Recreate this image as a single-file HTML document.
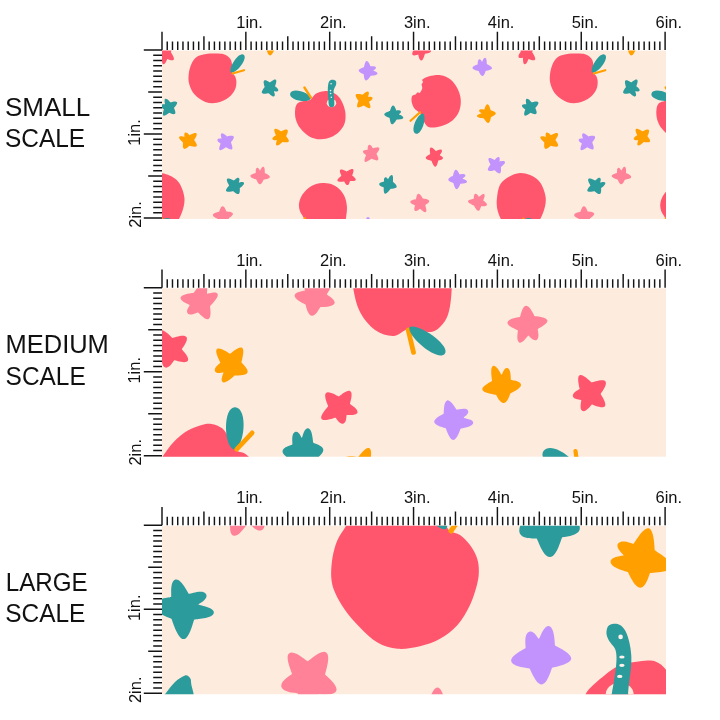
<!DOCTYPE html>
<html><head><meta charset="utf-8"><style>
html,body{margin:0;padding:0;background:#fff;width:720px;height:720px;overflow:hidden}
svg{position:absolute;left:0;top:0;display:block;will-change:transform}
.lb{font-family:"Liberation Sans",sans-serif;font-size:16.5px;fill:#111}
.big{font-family:"Liberation Sans",sans-serif;font-size:26px;fill:#111}
</style></head><body>
<svg width="720" height="720" viewBox="0 0 720 720">
<clipPath id="c0"><rect x="162" y="50.55" width="504" height="168.35"/></clipPath>
<rect x="162" y="50.55" width="504" height="168.35" fill="#FDEBDE"/>
<g clip-path="url(#c0)"><g transform="translate(-361.3 0)"><path d="M528.54 58.89C528.26 59.01 526.76 64.44 524.7 64.2C522.64 63.96 523.17 57.86 522.91 57.69C522.65 57.52 519.73 59 518.7 57.2C517.67 55.4 520.78 51.87 520.86 51.57C520.94 51.27 519.19 45.01 521 44C522.81 42.99 526.32 47.04 526.63 47.07C526.94 47.1 531.44 43.63 533 45C534.56 46.37 532.16 52.03 532.19 52.34C532.23 52.65 536.24 58.04 535 59.7C533.76 61.36 528.83 58.76 528.54 58.89Z" fill="#FF566D"/><path d="M274.66 49.24C274.46 49.47 272.03 55.6 270 55.5C267.97 55.4 266.35 49.26 266.16 49.03C265.97 48.79 260.68 46 261 44C261.32 42 265.72 42.31 265.91 42.06C266.09 41.82 264.17 36.87 266 36C267.83 35.13 270.45 39.37 270.75 39.38C271.06 39.39 274.24 34.98 276 36C277.76 37.02 275.17 41.93 275.34 42.18C275.51 42.43 279.68 42 280 44C280.32 46 274.86 49.01 274.66 49.24Z" fill="#FFA000"/><path d="M268.57 93.14C268.29 93.07 263 94.59 262 93C261 91.41 264.64 87.33 264.69 87.05C264.74 86.77 262.71 81.65 264.2 80.5C265.69 79.35 269.58 82.42 269.86 82.41C270.15 82.41 274.26 78.62 275.8 79.7C277.34 80.78 274.97 85.98 275.06 86.24C275.15 86.51 278.84 88.7 278.3 90.5C277.76 92.3 274.11 91.07 273.93 91.29C273.74 91.51 275.88 95.45 274.2 96.3C272.52 97.15 268.84 93.22 268.57 93.14Z" fill="#2B9B9B"/><path d="M530.53 112.75C530.25 112.78 526.23 116.51 524.7 115.5C523.17 114.49 525.36 109.6 525.26 109.34C525.16 109.08 521.55 107.28 522 105.5C522.45 103.72 526.08 104.38 526.26 104.18C526.44 103.97 524.98 99.45 526.7 98.8C528.42 98.15 531.46 102.23 531.72 102.32C531.98 102.41 537.31 100.65 538.3 102.2C539.29 103.75 535.34 107.81 535.31 108.08C535.28 108.35 537.6 112.5 536.3 113.8C535 115.1 530.8 112.72 530.53 112.75Z" fill="#2B9B9B"/><path d="M189.53 145.84C189.25 145.92 185.75 149.64 184 148.8C182.25 147.96 183.12 142.72 183.02 142.45C182.91 142.18 178.39 138.81 179.1 137C179.81 135.19 184.28 136.97 184.49 136.77C184.7 136.57 183.55 133.1 185.4 132.5C187.25 131.9 189.26 135.08 189.54 135.16C189.82 135.24 195.25 131.91 196.5 133.4C197.75 134.89 194.06 139.81 194.08 140.1C194.1 140.39 197.74 144.36 196.7 146C195.66 147.64 189.81 145.76 189.53 145.84Z" fill="#FFA000"/><path d="M225.81 147.32C225.53 147.34 221.27 151.16 219.7 150.1C218.13 149.04 220.66 143.73 220.56 143.47C220.45 143.21 216.99 141.55 217.4 139.7C217.81 137.85 221.44 138.67 221.61 138.45C221.79 138.23 219.8 134.24 221.5 133.4C223.2 132.56 226.73 136.34 227 136.42C227.27 136.5 232.73 134.97 233.7 136.6C234.67 138.23 231.06 142.14 231.02 142.42C230.97 142.7 233.45 147.98 232 149.2C230.55 150.42 226.1 147.3 225.81 147.32Z" fill="#C393FD"/><path d="M282.47 142.02C282.2 142.1 278.37 146.26 276.7 145.4C275.03 144.54 277.07 140.43 276.9 140.2C276.72 139.98 272.83 140.83 272.4 139C271.97 137.17 275.78 135.45 275.87 135.18C275.97 134.92 273.22 130.05 274.7 128.9C276.18 127.75 280.92 131.34 281.2 131.35C281.49 131.37 286 128.64 287.4 129.9C288.8 131.16 286.16 135.91 286.2 136.19C286.25 136.47 289.65 139.88 288.7 141.5C287.75 143.12 282.74 141.94 282.47 142.02Z" fill="#FFA000"/><path d="M256.41 179.63C256.22 179.43 250.4 177.86 250.4 176C250.4 174.14 255.56 173.24 255.72 173.01C255.88 172.78 255.26 168.44 257 167.8C258.74 167.16 259.76 170.7 260.03 170.71C260.31 170.71 261.76 166.14 263.5 166.8C265.24 167.46 264.65 172.8 264.8 173.04C264.95 173.27 270.09 175.15 269.9 177C269.71 178.85 263.72 179.65 263.51 179.84C263.31 180.03 261.96 184.28 260.1 184.3C258.24 184.32 256.61 179.82 256.41 179.63Z" fill="#FF8298"/><path d="M233.35 191.18C233.07 191.09 227.06 192.77 226.1 191.1C225.14 189.43 229.07 185.68 229.1 185.39C229.13 185.11 225.83 180.44 227.1 179C228.37 177.56 233.57 180.63 233.85 180.57C234.13 180.51 236.95 177.1 238.7 177.9C240.45 178.7 238.69 182.26 238.89 182.47C239.08 182.68 243.37 181.08 244 182.9C244.63 184.72 239.92 187.78 239.81 188.05C239.69 188.31 240.44 193.19 238.7 194C236.96 194.81 233.62 191.27 233.35 191.18Z" fill="#2B9B9B"/><path d="M223 222.65C222.68 222.65 218.83 227.1 217 226C215.17 224.9 217.55 219.03 217.41 218.74C217.27 218.45 212.65 216.92 212.9 214.8C213.15 212.68 218.92 212.06 219.15 211.84C219.39 211.62 220.47 206.39 222.6 206.3C224.73 206.21 226.14 211.26 226.4 211.45C226.65 211.64 232.38 211.43 232.9 213.5C233.42 215.57 228.88 218.08 228.76 218.38C228.64 218.67 230.83 224.9 229 226C227.17 227.1 223.32 222.65 223 222.65Z" fill="#FF8298"/><path d="M418.16 54.5C417.86 54.35 413.73 56.54 412.5 54.7C411.27 52.86 414.84 47.96 414.91 47.64C414.98 47.32 413.1 40.14 415 39C416.9 37.86 420.67 42.35 421 42.35C421.33 42.35 425.1 37.86 427 39C428.9 40.14 426.62 46.25 426.75 46.55C426.88 46.86 431.5 49.14 431 51.3C430.5 53.46 425.18 53.59 424.93 53.8C424.67 54.01 423.51 60.44 421.3 60.5C419.09 60.56 418.45 54.66 418.16 54.5Z" fill="#FF566D"/><path d="M370.82 75.84C370.58 75.98 367.66 80.93 365.8 80.5C363.94 80.07 363.83 74.49 363.66 74.27C363.49 74.04 358.6 72.41 358.7 70.5C358.8 68.59 363.75 67.45 363.95 67.24C364.14 67.03 364.81 61.25 366.7 61C368.59 60.75 370.28 66.16 370.54 66.29C370.79 66.43 374.96 65.48 375.8 67.2C376.64 68.92 373.25 70.27 373.28 70.56C373.3 70.84 378.04 71.97 377.5 73.8C376.96 75.63 371.07 75.69 370.82 75.84Z" fill="#C393FD"/><path d="M478.57 71.03C478.36 70.85 472.7 69.86 472.5 68C472.3 66.14 477.56 64.56 477.71 64.32C477.86 64.08 477.44 59.94 479.2 59.3C480.96 58.66 481.7 61.85 481.98 61.85C482.26 61.85 483.54 57.08 485.3 57.7C487.06 58.32 486.7 63.79 486.85 64.03C486.99 64.27 492.24 66.45 492 68.3C491.76 70.15 485.91 70.8 485.7 70.99C485.5 71.18 484.37 75.9 482.5 76C480.63 76.1 478.78 71.21 478.57 71.03Z" fill="#C393FD"/><path d="M363.75 105.61C363.46 105.6 358.91 108.47 357.5 107.2C356.09 105.93 358.54 101.01 358.5 100.73C358.46 100.44 354.77 96.3 355.8 94.7C356.83 93.1 362.33 94.81 362.6 94.74C362.88 94.66 366.61 90.83 368.3 91.7C369.99 92.57 367.89 96.61 368.06 96.83C368.24 97.06 372.06 96.15 372.5 98C372.94 99.85 369.12 101.55 369.02 101.82C368.92 102.09 371.52 106.86 370 108C368.48 109.14 364.03 105.62 363.75 105.61Z" fill="#FFA000"/><path d="M396.75 119.47C396.5 119.61 393.82 124.67 392 124.3C390.18 123.93 389.77 118.24 389.59 118.02C389.42 117.81 384.16 116.15 384.2 114.3C384.24 112.45 389.84 111.08 390.03 110.88C390.22 110.67 391.16 105.7 393 105.5C394.84 105.3 396.06 110.24 396.31 110.38C396.55 110.51 400.01 109.62 400.8 111.3C401.59 112.98 398.96 114.02 398.97 114.3C398.98 114.58 403.95 116.27 403.3 118C402.65 119.73 396.99 119.34 396.75 119.47Z" fill="#2B9B9B"/><path d="M483.88 118.55C483.65 118.39 477.42 118.12 477 116.3C476.58 114.48 481.58 113.61 481.62 113.33C481.65 113.05 478.35 111.66 479.2 110C480.05 108.34 484.13 109.58 484.37 109.44C484.61 109.3 485.64 104.2 487.5 104.3C489.36 104.4 490.48 110.02 490.68 110.21C490.88 110.41 495.65 111.44 495.8 113.3C495.95 115.16 491.17 116.97 490.99 117.19C490.82 117.41 490.15 122.73 488.3 123C486.45 123.27 484.11 118.71 483.88 118.55Z" fill="#FFA000"/><path d="M371.53 158.81C371.25 158.83 366.54 162.76 365 161.7C363.46 160.64 366.14 155.24 366.04 154.98C365.93 154.72 362.61 153.13 363 151.3C363.39 149.47 367.44 149.85 367.63 149.65C367.83 149.45 367.37 145.1 369.2 144.7C371.03 144.3 372.77 148.15 373.03 148.26C373.29 148.37 378.23 146.4 379.2 148C380.17 149.6 376.55 153.38 376.52 153.66C376.49 153.94 379.32 158.68 378 160C376.68 161.32 371.81 158.78 371.53 158.81Z" fill="#FF8298"/><path d="M431.46 160.79C431.24 160.61 426.1 159.86 425.8 158C425.5 156.14 430.02 154.18 430.15 153.94C430.28 153.69 429.1 148.29 430.8 147.5C432.5 146.71 435.72 151.05 435.99 151.1C436.27 151.15 440.39 148.65 441.7 150C443.01 151.35 439.73 154.87 439.81 155.15C439.89 155.42 443.41 156.47 443 158.3C442.59 160.13 438.55 160.37 438.34 160.55C438.12 160.73 437.18 166.64 435.3 166.7C433.42 166.76 431.68 160.97 431.46 160.79Z" fill="#FF566D"/><path d="M494.58 170.17C494.31 170.09 489.03 171.86 488 170.3C486.97 168.74 490.44 164.84 490.46 164.56C490.48 164.28 487.44 159.67 488.7 158.3C489.96 156.93 494.43 160 494.7 159.93C494.97 159.86 496.93 156.4 498.7 157C500.47 157.6 499.42 161.2 499.62 161.39C499.82 161.59 504.41 160.23 505 162C505.59 163.77 501.02 166.82 500.91 167.08C500.8 167.33 501.68 172.49 500 173.3C498.32 174.11 494.85 170.24 494.58 170.17Z" fill="#C393FD"/><path d="M344.22 181.4C343.98 181.24 338.2 182.56 337.5 180.8C336.8 179.04 341.34 176 341.4 175.73C341.47 175.45 338.91 170.98 340.3 169.7C341.69 168.42 346.47 171.39 346.76 171.38C347.04 171.36 351.5 168.05 353 169.2C354.5 170.35 352.14 175.15 352.22 175.42C352.3 175.69 356.41 178.21 355.8 180C355.19 181.79 350.22 180.75 350 180.92C349.77 181.09 349.39 184.88 347.5 185C345.61 185.12 344.46 181.55 344.22 181.4Z" fill="#FF566D"/><path d="M390.5 188.92C390.25 189.04 386.73 194.23 385 193.7C383.27 193.17 383.85 187.47 383.69 187.26C383.53 187.04 379.24 186.01 379.2 184.2C379.16 182.39 384 181.82 384.14 181.59C384.28 181.36 383.36 178.26 385 177.5C386.64 176.74 387.69 179.15 387.97 179.15C388.24 179.15 390.35 174.27 392 175C393.65 175.73 392.87 181.59 392.98 181.83C393.09 182.08 397.29 185.29 396.7 187C396.11 188.71 390.74 188.8 390.5 188.92Z" fill="#2B9B9B"/><path d="M460.44 183.77C460.21 183.94 458.62 189.26 456.7 189.2C454.78 189.14 453.49 183.11 453.28 182.91C453.07 182.71 448.45 181.61 448.3 179.7C448.15 177.79 452.81 175.97 452.99 175.75C453.17 175.53 453.9 169.95 455.8 169.7C457.7 169.45 459.27 174.2 459.52 174.34C459.78 174.48 464.47 173.27 465.3 175C466.13 176.73 462.56 178.27 462.58 178.56C462.61 178.85 467.55 180.16 467 182C466.45 183.84 460.68 183.6 460.44 183.77Z" fill="#C393FD"/><path d="M420.01 208.69C419.71 208.69 416.64 211.85 415 210.8C413.36 209.75 415.2 205.55 415.07 205.28C414.95 205.02 410.04 203.63 410.3 201.7C410.56 199.77 415.83 199.43 416.03 199.22C416.23 199 416.38 194.05 418.3 193.7C420.22 193.35 422.7 198.32 422.94 198.48C423.19 198.64 428.75 198.91 429.2 200.8C429.65 202.69 425.44 204.87 425.33 205.14C425.22 205.41 427.44 210.95 425.8 212C424.16 213.05 420.3 208.69 420.01 208.69Z" fill="#FF8298"/><path d="M474.14 205.73C473.94 205.52 467.87 203.18 468 201.3C468.13 199.42 473.61 198.93 473.79 198.71C473.96 198.49 473.51 194.28 475.3 193.7C477.09 193.12 478.67 196.71 478.95 196.76C479.22 196.81 482.73 193.03 484.2 194.2C485.67 195.37 483.23 200.15 483.31 200.42C483.39 200.69 487.59 203.22 487 205C486.41 206.78 481.35 206.01 481.12 206.18C480.89 206.35 480.18 210.74 478.3 210.8C476.42 210.86 474.33 205.93 474.14 205.73Z" fill="#FF8298"/><path d="M368 232.7C367.7 232.7 363.59 236.19 362 235C360.41 233.81 362.6 228.71 362.53 228.42C362.45 228.14 358.19 224.82 359 223C359.81 221.18 364.67 222.42 364.92 222.26C365.17 222.09 366.01 217 368 217C369.99 217 370.83 222.09 371.08 222.26C371.33 222.42 376.19 221.18 377 223C377.81 224.82 373.55 228.14 373.47 228.42C373.4 228.71 375.59 233.81 374 235C372.41 236.19 368.3 232.7 368 232.7Z" fill="#C393FD"/><path d="M202.4 54.7C205.23 54.03 209.45 53.68 213 53.6C216.55 53.52 220.87 53.37 223.7 54.2C226.53 55.03 228.62 56.9 230 58.6C231.38 60.3 231.75 62.3 232 64.4C232.25 66.5 231.02 69.25 231.5 71.2C231.98 73.15 234.08 74.32 234.9 76.1C235.72 77.88 236.4 79.63 236.4 81.9C236.4 84.17 236.2 87.1 234.9 89.7C233.6 92.3 231.6 95.32 228.6 97.5C225.6 99.68 220.78 102.07 216.9 102.8C213.02 103.53 209.02 103.27 205.3 101.9C201.58 100.53 197.28 97.6 194.6 94.6C191.92 91.6 190.18 87.3 189.2 83.9C188.22 80.5 188.37 77.45 188.7 74.2C189.03 70.95 189.98 67.17 191.2 64.4C192.42 61.63 194.13 59.22 196 57.6C197.87 55.98 199.57 55.37 202.4 54.7Z" fill="#FF566D"/><path d="M231 72.5C236.17 74.04 248.29 58.51 243.7 54.7C239.11 50.89 227.86 68.11 231 72.5Z" fill="#2B9B9B"/><path d="M232.5 73.5L244 70.2" stroke="#FFA000" stroke-width="2.2" stroke-linecap="round"/><path d="M311.2 99C312.5 97.87 313.98 94.9 316.1 93.6C318.22 92.3 321.47 91.52 323.9 91.2C326.33 90.88 328.43 90.98 330.7 91.7C332.97 92.42 335.57 93.72 337.5 95.5C339.43 97.28 341 99.63 342.3 102.4C343.6 105.17 344.88 108.7 345.3 112.1C345.72 115.5 345.78 119.57 344.8 122.8C343.82 126.03 341.75 129.08 339.4 131.5C337.05 133.92 333.93 136 330.7 137.3C327.47 138.6 323.57 139.45 320 139.3C316.43 139.15 312.55 138.18 309.3 136.4C306.05 134.62 302.77 131.52 300.5 128.6C298.23 125.68 296.58 122.13 295.7 118.9C294.82 115.67 294.88 111.8 295.2 109.2C295.52 106.6 296.22 104.68 297.6 103.3C298.98 101.92 301.72 101.38 303.5 100.9C305.28 100.42 307.02 100.72 308.3 100.4C309.58 100.08 309.9 100.13 311.2 99Z" fill="#FF566D"/><path d="M310.8 98.8C310.61 92.8 292.32 87.01 290.2 93.4C288.08 99.79 307.69 103.94 310.8 98.8Z" fill="#2B9B9B"/><path d="M304.4 87.5L311 97.6" stroke="#FFA000" stroke-width="2.3" stroke-linecap="round"/><ellipse cx="331.5" cy="103.2" rx="4.7" ry="4.1" fill="#FDEBDE"/><path d="M328.2 84.5C327.92 86 327.78 87.75 327.8 90C327.82 92.25 328.1 95.42 328.3 98C328.5 100.58 328.47 103.97 329 105.5C329.53 107.03 330.63 107.2 331.5 107.2C332.37 107.2 333.78 107.03 334.2 105.5C334.62 103.97 334.1 100.33 334 98C333.9 95.67 333.55 93.08 333.6 91.5C333.65 89.92 333.88 89.67 334.3 88.5C334.72 87.33 335.85 85.75 336.1 84.5C336.35 83.25 336.4 81.8 335.8 81C335.2 80.2 333.55 79.7 332.5 79.7C331.45 79.7 330.22 80.2 329.5 81C328.78 81.8 328.48 83 328.2 84.5Z" fill="#2B9B9B"/><circle cx="331.1" cy="83.8" r="0.8" fill="#FDF3EC"/><circle cx="330.5" cy="90.6" r="0.8" fill="#FDF3EC"/><circle cx="330.6" cy="93.5" r="0.8" fill="#FDF3EC"/><circle cx="331.3" cy="97.3" r="0.8" fill="#FDF3EC"/><path d="M422.4 79.6C423.43 78.63 426.13 76.93 429.2 76.2C432.27 75.47 437.25 74.63 440.8 75.2C444.35 75.77 447.75 77.42 450.5 79.6C453.25 81.78 455.6 85.07 457.3 88.3C459 91.53 460.37 95.27 460.7 99C461.03 102.73 460.67 107.13 459.3 110.7C457.93 114.27 455.58 117.82 452.5 120.4C449.42 122.98 444.68 125.07 440.8 126.2C436.92 127.33 431.95 127.85 429.2 127.2C426.45 126.55 425.77 124.57 424.3 122.3C422.83 120.03 422.02 115.87 420.4 113.6C418.78 111.33 416.05 110.65 414.6 108.7C413.15 106.75 412.12 104 411.7 101.9C411.28 99.8 411.47 97.35 412.1 96.1C412.73 94.85 414.6 95.02 415.5 94.4C416.4 93.78 416.82 92.65 417.5 92.4C418.18 92.15 418.82 93.55 419.6 92.9C420.38 92.25 421.87 89.88 422.2 88.5C422.53 87.12 421.47 85.68 421.6 84.6C421.73 83.52 422.87 82.83 423 82C423.13 81.17 421.37 80.57 422.4 79.6Z" fill="#FF566D"/><path d="M420 112.4L410.5 120.8" stroke="#FFA000" stroke-width="2.2" stroke-linecap="round"/><path d="M423 113.5C417.34 113.22 409.75 131 415.5 133.6C421.25 136.2 427.46 117 423 113.5Z" fill="#2B9B9B"/><path d="M303.5 217.4C302.48 215.58 300.65 213.35 299.9 211.1C299.15 208.85 298.7 206.45 299 203.9C299.3 201.35 300.2 198.37 301.7 195.8C303.2 193.23 305.58 190.47 308 188.5C310.42 186.53 313.48 184.9 316.2 184C318.92 183.1 321.45 182.95 324.3 183.1C327.15 183.25 330.6 183.7 333.3 184.9C336 186.1 338.55 188.18 340.5 190.3C342.45 192.42 343.93 194.88 345 197.6C346.07 200.32 346.67 203.75 346.9 206.6C347.13 209.45 346.8 212.3 346.4 214.7C346 217.1 346.4 218.95 344.5 221C342.6 223.05 339.92 226 335 227C330.08 228 319.83 227.83 315 227C310.17 226.17 307.92 223.6 306 222C304.08 220.4 304.52 219.22 303.5 217.4Z" fill="#FF566D"/><path d="M305 218.2L301 225" stroke="#FFA000" stroke-width="2.3" stroke-linecap="round"/><path d="M497 198C497.67 193 498.17 186.15 502 182C505.83 177.85 514 173.43 520 173.1C526 172.77 533.73 176.02 538 180C542.27 183.98 544.77 191.5 545.6 197C546.43 202.5 544.77 208.33 543 213C541.23 217.67 538.83 222.5 535 225C531.17 227.5 525 228.17 520 228C515 227.83 508.67 226.67 505 224C501.33 221.33 499.33 216.33 498 212C496.67 207.67 496.33 203 497 198Z" fill="#FF566D"/><ellipse cx="528.6" cy="222.5" rx="5.2" ry="4.6" fill="#2B9B9B"/><path d="M523.3 218.5L521 225" stroke="#FFA000" stroke-width="2" stroke-linecap="round"/></g><g transform="translate(0 0)"><path d="M528.54 58.89C528.26 59.01 526.76 64.44 524.7 64.2C522.64 63.96 523.17 57.86 522.91 57.69C522.65 57.52 519.73 59 518.7 57.2C517.67 55.4 520.78 51.87 520.86 51.57C520.94 51.27 519.19 45.01 521 44C522.81 42.99 526.32 47.04 526.63 47.07C526.94 47.1 531.44 43.63 533 45C534.56 46.37 532.16 52.03 532.19 52.34C532.23 52.65 536.24 58.04 535 59.7C533.76 61.36 528.83 58.76 528.54 58.89Z" fill="#FF566D"/><path d="M274.66 49.24C274.46 49.47 272.03 55.6 270 55.5C267.97 55.4 266.35 49.26 266.16 49.03C265.97 48.79 260.68 46 261 44C261.32 42 265.72 42.31 265.91 42.06C266.09 41.82 264.17 36.87 266 36C267.83 35.13 270.45 39.37 270.75 39.38C271.06 39.39 274.24 34.98 276 36C277.76 37.02 275.17 41.93 275.34 42.18C275.51 42.43 279.68 42 280 44C280.32 46 274.86 49.01 274.66 49.24Z" fill="#FFA000"/><path d="M268.57 93.14C268.29 93.07 263 94.59 262 93C261 91.41 264.64 87.33 264.69 87.05C264.74 86.77 262.71 81.65 264.2 80.5C265.69 79.35 269.58 82.42 269.86 82.41C270.15 82.41 274.26 78.62 275.8 79.7C277.34 80.78 274.97 85.98 275.06 86.24C275.15 86.51 278.84 88.7 278.3 90.5C277.76 92.3 274.11 91.07 273.93 91.29C273.74 91.51 275.88 95.45 274.2 96.3C272.52 97.15 268.84 93.22 268.57 93.14Z" fill="#2B9B9B"/><path d="M530.53 112.75C530.25 112.78 526.23 116.51 524.7 115.5C523.17 114.49 525.36 109.6 525.26 109.34C525.16 109.08 521.55 107.28 522 105.5C522.45 103.72 526.08 104.38 526.26 104.18C526.44 103.97 524.98 99.45 526.7 98.8C528.42 98.15 531.46 102.23 531.72 102.32C531.98 102.41 537.31 100.65 538.3 102.2C539.29 103.75 535.34 107.81 535.31 108.08C535.28 108.35 537.6 112.5 536.3 113.8C535 115.1 530.8 112.72 530.53 112.75Z" fill="#2B9B9B"/><path d="M189.53 145.84C189.25 145.92 185.75 149.64 184 148.8C182.25 147.96 183.12 142.72 183.02 142.45C182.91 142.18 178.39 138.81 179.1 137C179.81 135.19 184.28 136.97 184.49 136.77C184.7 136.57 183.55 133.1 185.4 132.5C187.25 131.9 189.26 135.08 189.54 135.16C189.82 135.24 195.25 131.91 196.5 133.4C197.75 134.89 194.06 139.81 194.08 140.1C194.1 140.39 197.74 144.36 196.7 146C195.66 147.64 189.81 145.76 189.53 145.84Z" fill="#FFA000"/><path d="M225.81 147.32C225.53 147.34 221.27 151.16 219.7 150.1C218.13 149.04 220.66 143.73 220.56 143.47C220.45 143.21 216.99 141.55 217.4 139.7C217.81 137.85 221.44 138.67 221.61 138.45C221.79 138.23 219.8 134.24 221.5 133.4C223.2 132.56 226.73 136.34 227 136.42C227.27 136.5 232.73 134.97 233.7 136.6C234.67 138.23 231.06 142.14 231.02 142.42C230.97 142.7 233.45 147.98 232 149.2C230.55 150.42 226.1 147.3 225.81 147.32Z" fill="#C393FD"/><path d="M282.47 142.02C282.2 142.1 278.37 146.26 276.7 145.4C275.03 144.54 277.07 140.43 276.9 140.2C276.72 139.98 272.83 140.83 272.4 139C271.97 137.17 275.78 135.45 275.87 135.18C275.97 134.92 273.22 130.05 274.7 128.9C276.18 127.75 280.92 131.34 281.2 131.35C281.49 131.37 286 128.64 287.4 129.9C288.8 131.16 286.16 135.91 286.2 136.19C286.25 136.47 289.65 139.88 288.7 141.5C287.75 143.12 282.74 141.94 282.47 142.02Z" fill="#FFA000"/><path d="M256.41 179.63C256.22 179.43 250.4 177.86 250.4 176C250.4 174.14 255.56 173.24 255.72 173.01C255.88 172.78 255.26 168.44 257 167.8C258.74 167.16 259.76 170.7 260.03 170.71C260.31 170.71 261.76 166.14 263.5 166.8C265.24 167.46 264.65 172.8 264.8 173.04C264.95 173.27 270.09 175.15 269.9 177C269.71 178.85 263.72 179.65 263.51 179.84C263.31 180.03 261.96 184.28 260.1 184.3C258.24 184.32 256.61 179.82 256.41 179.63Z" fill="#FF8298"/><path d="M233.35 191.18C233.07 191.09 227.06 192.77 226.1 191.1C225.14 189.43 229.07 185.68 229.1 185.39C229.13 185.11 225.83 180.44 227.1 179C228.37 177.56 233.57 180.63 233.85 180.57C234.13 180.51 236.95 177.1 238.7 177.9C240.45 178.7 238.69 182.26 238.89 182.47C239.08 182.68 243.37 181.08 244 182.9C244.63 184.72 239.92 187.78 239.81 188.05C239.69 188.31 240.44 193.19 238.7 194C236.96 194.81 233.62 191.27 233.35 191.18Z" fill="#2B9B9B"/><path d="M223 222.65C222.68 222.65 218.83 227.1 217 226C215.17 224.9 217.55 219.03 217.41 218.74C217.27 218.45 212.65 216.92 212.9 214.8C213.15 212.68 218.92 212.06 219.15 211.84C219.39 211.62 220.47 206.39 222.6 206.3C224.73 206.21 226.14 211.26 226.4 211.45C226.65 211.64 232.38 211.43 232.9 213.5C233.42 215.57 228.88 218.08 228.76 218.38C228.64 218.67 230.83 224.9 229 226C227.17 227.1 223.32 222.65 223 222.65Z" fill="#FF8298"/><path d="M418.16 54.5C417.86 54.35 413.73 56.54 412.5 54.7C411.27 52.86 414.84 47.96 414.91 47.64C414.98 47.32 413.1 40.14 415 39C416.9 37.86 420.67 42.35 421 42.35C421.33 42.35 425.1 37.86 427 39C428.9 40.14 426.62 46.25 426.75 46.55C426.88 46.86 431.5 49.14 431 51.3C430.5 53.46 425.18 53.59 424.93 53.8C424.67 54.01 423.51 60.44 421.3 60.5C419.09 60.56 418.45 54.66 418.16 54.5Z" fill="#FF566D"/><path d="M370.82 75.84C370.58 75.98 367.66 80.93 365.8 80.5C363.94 80.07 363.83 74.49 363.66 74.27C363.49 74.04 358.6 72.41 358.7 70.5C358.8 68.59 363.75 67.45 363.95 67.24C364.14 67.03 364.81 61.25 366.7 61C368.59 60.75 370.28 66.16 370.54 66.29C370.79 66.43 374.96 65.48 375.8 67.2C376.64 68.92 373.25 70.27 373.28 70.56C373.3 70.84 378.04 71.97 377.5 73.8C376.96 75.63 371.07 75.69 370.82 75.84Z" fill="#C393FD"/><path d="M478.57 71.03C478.36 70.85 472.7 69.86 472.5 68C472.3 66.14 477.56 64.56 477.71 64.32C477.86 64.08 477.44 59.94 479.2 59.3C480.96 58.66 481.7 61.85 481.98 61.85C482.26 61.85 483.54 57.08 485.3 57.7C487.06 58.32 486.7 63.79 486.85 64.03C486.99 64.27 492.24 66.45 492 68.3C491.76 70.15 485.91 70.8 485.7 70.99C485.5 71.18 484.37 75.9 482.5 76C480.63 76.1 478.78 71.21 478.57 71.03Z" fill="#C393FD"/><path d="M363.75 105.61C363.46 105.6 358.91 108.47 357.5 107.2C356.09 105.93 358.54 101.01 358.5 100.73C358.46 100.44 354.77 96.3 355.8 94.7C356.83 93.1 362.33 94.81 362.6 94.74C362.88 94.66 366.61 90.83 368.3 91.7C369.99 92.57 367.89 96.61 368.06 96.83C368.24 97.06 372.06 96.15 372.5 98C372.94 99.85 369.12 101.55 369.02 101.82C368.92 102.09 371.52 106.86 370 108C368.48 109.14 364.03 105.62 363.75 105.61Z" fill="#FFA000"/><path d="M396.75 119.47C396.5 119.61 393.82 124.67 392 124.3C390.18 123.93 389.77 118.24 389.59 118.02C389.42 117.81 384.16 116.15 384.2 114.3C384.24 112.45 389.84 111.08 390.03 110.88C390.22 110.67 391.16 105.7 393 105.5C394.84 105.3 396.06 110.24 396.31 110.38C396.55 110.51 400.01 109.62 400.8 111.3C401.59 112.98 398.96 114.02 398.97 114.3C398.98 114.58 403.95 116.27 403.3 118C402.65 119.73 396.99 119.34 396.75 119.47Z" fill="#2B9B9B"/><path d="M483.88 118.55C483.65 118.39 477.42 118.12 477 116.3C476.58 114.48 481.58 113.61 481.62 113.33C481.65 113.05 478.35 111.66 479.2 110C480.05 108.34 484.13 109.58 484.37 109.44C484.61 109.3 485.64 104.2 487.5 104.3C489.36 104.4 490.48 110.02 490.68 110.21C490.88 110.41 495.65 111.44 495.8 113.3C495.95 115.16 491.17 116.97 490.99 117.19C490.82 117.41 490.15 122.73 488.3 123C486.45 123.27 484.11 118.71 483.88 118.55Z" fill="#FFA000"/><path d="M371.53 158.81C371.25 158.83 366.54 162.76 365 161.7C363.46 160.64 366.14 155.24 366.04 154.98C365.93 154.72 362.61 153.13 363 151.3C363.39 149.47 367.44 149.85 367.63 149.65C367.83 149.45 367.37 145.1 369.2 144.7C371.03 144.3 372.77 148.15 373.03 148.26C373.29 148.37 378.23 146.4 379.2 148C380.17 149.6 376.55 153.38 376.52 153.66C376.49 153.94 379.32 158.68 378 160C376.68 161.32 371.81 158.78 371.53 158.81Z" fill="#FF8298"/><path d="M431.46 160.79C431.24 160.61 426.1 159.86 425.8 158C425.5 156.14 430.02 154.18 430.15 153.94C430.28 153.69 429.1 148.29 430.8 147.5C432.5 146.71 435.72 151.05 435.99 151.1C436.27 151.15 440.39 148.65 441.7 150C443.01 151.35 439.73 154.87 439.81 155.15C439.89 155.42 443.41 156.47 443 158.3C442.59 160.13 438.55 160.37 438.34 160.55C438.12 160.73 437.18 166.64 435.3 166.7C433.42 166.76 431.68 160.97 431.46 160.79Z" fill="#FF566D"/><path d="M494.58 170.17C494.31 170.09 489.03 171.86 488 170.3C486.97 168.74 490.44 164.84 490.46 164.56C490.48 164.28 487.44 159.67 488.7 158.3C489.96 156.93 494.43 160 494.7 159.93C494.97 159.86 496.93 156.4 498.7 157C500.47 157.6 499.42 161.2 499.62 161.39C499.82 161.59 504.41 160.23 505 162C505.59 163.77 501.02 166.82 500.91 167.08C500.8 167.33 501.68 172.49 500 173.3C498.32 174.11 494.85 170.24 494.58 170.17Z" fill="#C393FD"/><path d="M344.22 181.4C343.98 181.24 338.2 182.56 337.5 180.8C336.8 179.04 341.34 176 341.4 175.73C341.47 175.45 338.91 170.98 340.3 169.7C341.69 168.42 346.47 171.39 346.76 171.38C347.04 171.36 351.5 168.05 353 169.2C354.5 170.35 352.14 175.15 352.22 175.42C352.3 175.69 356.41 178.21 355.8 180C355.19 181.79 350.22 180.75 350 180.92C349.77 181.09 349.39 184.88 347.5 185C345.61 185.12 344.46 181.55 344.22 181.4Z" fill="#FF566D"/><path d="M390.5 188.92C390.25 189.04 386.73 194.23 385 193.7C383.27 193.17 383.85 187.47 383.69 187.26C383.53 187.04 379.24 186.01 379.2 184.2C379.16 182.39 384 181.82 384.14 181.59C384.28 181.36 383.36 178.26 385 177.5C386.64 176.74 387.69 179.15 387.97 179.15C388.24 179.15 390.35 174.27 392 175C393.65 175.73 392.87 181.59 392.98 181.83C393.09 182.08 397.29 185.29 396.7 187C396.11 188.71 390.74 188.8 390.5 188.92Z" fill="#2B9B9B"/><path d="M460.44 183.77C460.21 183.94 458.62 189.26 456.7 189.2C454.78 189.14 453.49 183.11 453.28 182.91C453.07 182.71 448.45 181.61 448.3 179.7C448.15 177.79 452.81 175.97 452.99 175.75C453.17 175.53 453.9 169.95 455.8 169.7C457.7 169.45 459.27 174.2 459.52 174.34C459.78 174.48 464.47 173.27 465.3 175C466.13 176.73 462.56 178.27 462.58 178.56C462.61 178.85 467.55 180.16 467 182C466.45 183.84 460.68 183.6 460.44 183.77Z" fill="#C393FD"/><path d="M420.01 208.69C419.71 208.69 416.64 211.85 415 210.8C413.36 209.75 415.2 205.55 415.07 205.28C414.95 205.02 410.04 203.63 410.3 201.7C410.56 199.77 415.83 199.43 416.03 199.22C416.23 199 416.38 194.05 418.3 193.7C420.22 193.35 422.7 198.32 422.94 198.48C423.19 198.64 428.75 198.91 429.2 200.8C429.65 202.69 425.44 204.87 425.33 205.14C425.22 205.41 427.44 210.95 425.8 212C424.16 213.05 420.3 208.69 420.01 208.69Z" fill="#FF8298"/><path d="M474.14 205.73C473.94 205.52 467.87 203.18 468 201.3C468.13 199.42 473.61 198.93 473.79 198.71C473.96 198.49 473.51 194.28 475.3 193.7C477.09 193.12 478.67 196.71 478.95 196.76C479.22 196.81 482.73 193.03 484.2 194.2C485.67 195.37 483.23 200.15 483.31 200.42C483.39 200.69 487.59 203.22 487 205C486.41 206.78 481.35 206.01 481.12 206.18C480.89 206.35 480.18 210.74 478.3 210.8C476.42 210.86 474.33 205.93 474.14 205.73Z" fill="#FF8298"/><path d="M368 232.7C367.7 232.7 363.59 236.19 362 235C360.41 233.81 362.6 228.71 362.53 228.42C362.45 228.14 358.19 224.82 359 223C359.81 221.18 364.67 222.42 364.92 222.26C365.17 222.09 366.01 217 368 217C369.99 217 370.83 222.09 371.08 222.26C371.33 222.42 376.19 221.18 377 223C377.81 224.82 373.55 228.14 373.47 228.42C373.4 228.71 375.59 233.81 374 235C372.41 236.19 368.3 232.7 368 232.7Z" fill="#C393FD"/><path d="M202.4 54.7C205.23 54.03 209.45 53.68 213 53.6C216.55 53.52 220.87 53.37 223.7 54.2C226.53 55.03 228.62 56.9 230 58.6C231.38 60.3 231.75 62.3 232 64.4C232.25 66.5 231.02 69.25 231.5 71.2C231.98 73.15 234.08 74.32 234.9 76.1C235.72 77.88 236.4 79.63 236.4 81.9C236.4 84.17 236.2 87.1 234.9 89.7C233.6 92.3 231.6 95.32 228.6 97.5C225.6 99.68 220.78 102.07 216.9 102.8C213.02 103.53 209.02 103.27 205.3 101.9C201.58 100.53 197.28 97.6 194.6 94.6C191.92 91.6 190.18 87.3 189.2 83.9C188.22 80.5 188.37 77.45 188.7 74.2C189.03 70.95 189.98 67.17 191.2 64.4C192.42 61.63 194.13 59.22 196 57.6C197.87 55.98 199.57 55.37 202.4 54.7Z" fill="#FF566D"/><path d="M231 72.5C236.17 74.04 248.29 58.51 243.7 54.7C239.11 50.89 227.86 68.11 231 72.5Z" fill="#2B9B9B"/><path d="M232.5 73.5L244 70.2" stroke="#FFA000" stroke-width="2.2" stroke-linecap="round"/><path d="M311.2 99C312.5 97.87 313.98 94.9 316.1 93.6C318.22 92.3 321.47 91.52 323.9 91.2C326.33 90.88 328.43 90.98 330.7 91.7C332.97 92.42 335.57 93.72 337.5 95.5C339.43 97.28 341 99.63 342.3 102.4C343.6 105.17 344.88 108.7 345.3 112.1C345.72 115.5 345.78 119.57 344.8 122.8C343.82 126.03 341.75 129.08 339.4 131.5C337.05 133.92 333.93 136 330.7 137.3C327.47 138.6 323.57 139.45 320 139.3C316.43 139.15 312.55 138.18 309.3 136.4C306.05 134.62 302.77 131.52 300.5 128.6C298.23 125.68 296.58 122.13 295.7 118.9C294.82 115.67 294.88 111.8 295.2 109.2C295.52 106.6 296.22 104.68 297.6 103.3C298.98 101.92 301.72 101.38 303.5 100.9C305.28 100.42 307.02 100.72 308.3 100.4C309.58 100.08 309.9 100.13 311.2 99Z" fill="#FF566D"/><path d="M310.8 98.8C310.61 92.8 292.32 87.01 290.2 93.4C288.08 99.79 307.69 103.94 310.8 98.8Z" fill="#2B9B9B"/><path d="M304.4 87.5L311 97.6" stroke="#FFA000" stroke-width="2.3" stroke-linecap="round"/><ellipse cx="331.5" cy="103.2" rx="4.7" ry="4.1" fill="#FDEBDE"/><path d="M328.2 84.5C327.92 86 327.78 87.75 327.8 90C327.82 92.25 328.1 95.42 328.3 98C328.5 100.58 328.47 103.97 329 105.5C329.53 107.03 330.63 107.2 331.5 107.2C332.37 107.2 333.78 107.03 334.2 105.5C334.62 103.97 334.1 100.33 334 98C333.9 95.67 333.55 93.08 333.6 91.5C333.65 89.92 333.88 89.67 334.3 88.5C334.72 87.33 335.85 85.75 336.1 84.5C336.35 83.25 336.4 81.8 335.8 81C335.2 80.2 333.55 79.7 332.5 79.7C331.45 79.7 330.22 80.2 329.5 81C328.78 81.8 328.48 83 328.2 84.5Z" fill="#2B9B9B"/><circle cx="331.1" cy="83.8" r="0.8" fill="#FDF3EC"/><circle cx="330.5" cy="90.6" r="0.8" fill="#FDF3EC"/><circle cx="330.6" cy="93.5" r="0.8" fill="#FDF3EC"/><circle cx="331.3" cy="97.3" r="0.8" fill="#FDF3EC"/><path d="M422.4 79.6C423.43 78.63 426.13 76.93 429.2 76.2C432.27 75.47 437.25 74.63 440.8 75.2C444.35 75.77 447.75 77.42 450.5 79.6C453.25 81.78 455.6 85.07 457.3 88.3C459 91.53 460.37 95.27 460.7 99C461.03 102.73 460.67 107.13 459.3 110.7C457.93 114.27 455.58 117.82 452.5 120.4C449.42 122.98 444.68 125.07 440.8 126.2C436.92 127.33 431.95 127.85 429.2 127.2C426.45 126.55 425.77 124.57 424.3 122.3C422.83 120.03 422.02 115.87 420.4 113.6C418.78 111.33 416.05 110.65 414.6 108.7C413.15 106.75 412.12 104 411.7 101.9C411.28 99.8 411.47 97.35 412.1 96.1C412.73 94.85 414.6 95.02 415.5 94.4C416.4 93.78 416.82 92.65 417.5 92.4C418.18 92.15 418.82 93.55 419.6 92.9C420.38 92.25 421.87 89.88 422.2 88.5C422.53 87.12 421.47 85.68 421.6 84.6C421.73 83.52 422.87 82.83 423 82C423.13 81.17 421.37 80.57 422.4 79.6Z" fill="#FF566D"/><path d="M420 112.4L410.5 120.8" stroke="#FFA000" stroke-width="2.2" stroke-linecap="round"/><path d="M423 113.5C417.34 113.22 409.75 131 415.5 133.6C421.25 136.2 427.46 117 423 113.5Z" fill="#2B9B9B"/><path d="M303.5 217.4C302.48 215.58 300.65 213.35 299.9 211.1C299.15 208.85 298.7 206.45 299 203.9C299.3 201.35 300.2 198.37 301.7 195.8C303.2 193.23 305.58 190.47 308 188.5C310.42 186.53 313.48 184.9 316.2 184C318.92 183.1 321.45 182.95 324.3 183.1C327.15 183.25 330.6 183.7 333.3 184.9C336 186.1 338.55 188.18 340.5 190.3C342.45 192.42 343.93 194.88 345 197.6C346.07 200.32 346.67 203.75 346.9 206.6C347.13 209.45 346.8 212.3 346.4 214.7C346 217.1 346.4 218.95 344.5 221C342.6 223.05 339.92 226 335 227C330.08 228 319.83 227.83 315 227C310.17 226.17 307.92 223.6 306 222C304.08 220.4 304.52 219.22 303.5 217.4Z" fill="#FF566D"/><path d="M305 218.2L301 225" stroke="#FFA000" stroke-width="2.3" stroke-linecap="round"/><path d="M497 198C497.67 193 498.17 186.15 502 182C505.83 177.85 514 173.43 520 173.1C526 172.77 533.73 176.02 538 180C542.27 183.98 544.77 191.5 545.6 197C546.43 202.5 544.77 208.33 543 213C541.23 217.67 538.83 222.5 535 225C531.17 227.5 525 228.17 520 228C515 227.83 508.67 226.67 505 224C501.33 221.33 499.33 216.33 498 212C496.67 207.67 496.33 203 497 198Z" fill="#FF566D"/><ellipse cx="528.6" cy="222.5" rx="5.2" ry="4.6" fill="#2B9B9B"/><path d="M523.3 218.5L521 225" stroke="#FFA000" stroke-width="2" stroke-linecap="round"/></g><g transform="translate(361.3 0)"><path d="M528.54 58.89C528.26 59.01 526.76 64.44 524.7 64.2C522.64 63.96 523.17 57.86 522.91 57.69C522.65 57.52 519.73 59 518.7 57.2C517.67 55.4 520.78 51.87 520.86 51.57C520.94 51.27 519.19 45.01 521 44C522.81 42.99 526.32 47.04 526.63 47.07C526.94 47.1 531.44 43.63 533 45C534.56 46.37 532.16 52.03 532.19 52.34C532.23 52.65 536.24 58.04 535 59.7C533.76 61.36 528.83 58.76 528.54 58.89Z" fill="#FF566D"/><path d="M274.66 49.24C274.46 49.47 272.03 55.6 270 55.5C267.97 55.4 266.35 49.26 266.16 49.03C265.97 48.79 260.68 46 261 44C261.32 42 265.72 42.31 265.91 42.06C266.09 41.82 264.17 36.87 266 36C267.83 35.13 270.45 39.37 270.75 39.38C271.06 39.39 274.24 34.98 276 36C277.76 37.02 275.17 41.93 275.34 42.18C275.51 42.43 279.68 42 280 44C280.32 46 274.86 49.01 274.66 49.24Z" fill="#FFA000"/><path d="M268.57 93.14C268.29 93.07 263 94.59 262 93C261 91.41 264.64 87.33 264.69 87.05C264.74 86.77 262.71 81.65 264.2 80.5C265.69 79.35 269.58 82.42 269.86 82.41C270.15 82.41 274.26 78.62 275.8 79.7C277.34 80.78 274.97 85.98 275.06 86.24C275.15 86.51 278.84 88.7 278.3 90.5C277.76 92.3 274.11 91.07 273.93 91.29C273.74 91.51 275.88 95.45 274.2 96.3C272.52 97.15 268.84 93.22 268.57 93.14Z" fill="#2B9B9B"/><path d="M530.53 112.75C530.25 112.78 526.23 116.51 524.7 115.5C523.17 114.49 525.36 109.6 525.26 109.34C525.16 109.08 521.55 107.28 522 105.5C522.45 103.72 526.08 104.38 526.26 104.18C526.44 103.97 524.98 99.45 526.7 98.8C528.42 98.15 531.46 102.23 531.72 102.32C531.98 102.41 537.31 100.65 538.3 102.2C539.29 103.75 535.34 107.81 535.31 108.08C535.28 108.35 537.6 112.5 536.3 113.8C535 115.1 530.8 112.72 530.53 112.75Z" fill="#2B9B9B"/><path d="M189.53 145.84C189.25 145.92 185.75 149.64 184 148.8C182.25 147.96 183.12 142.72 183.02 142.45C182.91 142.18 178.39 138.81 179.1 137C179.81 135.19 184.28 136.97 184.49 136.77C184.7 136.57 183.55 133.1 185.4 132.5C187.25 131.9 189.26 135.08 189.54 135.16C189.82 135.24 195.25 131.91 196.5 133.4C197.75 134.89 194.06 139.81 194.08 140.1C194.1 140.39 197.74 144.36 196.7 146C195.66 147.64 189.81 145.76 189.53 145.84Z" fill="#FFA000"/><path d="M225.81 147.32C225.53 147.34 221.27 151.16 219.7 150.1C218.13 149.04 220.66 143.73 220.56 143.47C220.45 143.21 216.99 141.55 217.4 139.7C217.81 137.85 221.44 138.67 221.61 138.45C221.79 138.23 219.8 134.24 221.5 133.4C223.2 132.56 226.73 136.34 227 136.42C227.27 136.5 232.73 134.97 233.7 136.6C234.67 138.23 231.06 142.14 231.02 142.42C230.97 142.7 233.45 147.98 232 149.2C230.55 150.42 226.1 147.3 225.81 147.32Z" fill="#C393FD"/><path d="M282.47 142.02C282.2 142.1 278.37 146.26 276.7 145.4C275.03 144.54 277.07 140.43 276.9 140.2C276.72 139.98 272.83 140.83 272.4 139C271.97 137.17 275.78 135.45 275.87 135.18C275.97 134.92 273.22 130.05 274.7 128.9C276.18 127.75 280.92 131.34 281.2 131.35C281.49 131.37 286 128.64 287.4 129.9C288.8 131.16 286.16 135.91 286.2 136.19C286.25 136.47 289.65 139.88 288.7 141.5C287.75 143.12 282.74 141.94 282.47 142.02Z" fill="#FFA000"/><path d="M256.41 179.63C256.22 179.43 250.4 177.86 250.4 176C250.4 174.14 255.56 173.24 255.72 173.01C255.88 172.78 255.26 168.44 257 167.8C258.74 167.16 259.76 170.7 260.03 170.71C260.31 170.71 261.76 166.14 263.5 166.8C265.24 167.46 264.65 172.8 264.8 173.04C264.95 173.27 270.09 175.15 269.9 177C269.71 178.85 263.72 179.65 263.51 179.84C263.31 180.03 261.96 184.28 260.1 184.3C258.24 184.32 256.61 179.82 256.41 179.63Z" fill="#FF8298"/><path d="M233.35 191.18C233.07 191.09 227.06 192.77 226.1 191.1C225.14 189.43 229.07 185.68 229.1 185.39C229.13 185.11 225.83 180.44 227.1 179C228.37 177.56 233.57 180.63 233.85 180.57C234.13 180.51 236.95 177.1 238.7 177.9C240.45 178.7 238.69 182.26 238.89 182.47C239.08 182.68 243.37 181.08 244 182.9C244.63 184.72 239.92 187.78 239.81 188.05C239.69 188.31 240.44 193.19 238.7 194C236.96 194.81 233.62 191.27 233.35 191.18Z" fill="#2B9B9B"/><path d="M223 222.65C222.68 222.65 218.83 227.1 217 226C215.17 224.9 217.55 219.03 217.41 218.74C217.27 218.45 212.65 216.92 212.9 214.8C213.15 212.68 218.92 212.06 219.15 211.84C219.39 211.62 220.47 206.39 222.6 206.3C224.73 206.21 226.14 211.26 226.4 211.45C226.65 211.64 232.38 211.43 232.9 213.5C233.42 215.57 228.88 218.08 228.76 218.38C228.64 218.67 230.83 224.9 229 226C227.17 227.1 223.32 222.65 223 222.65Z" fill="#FF8298"/><path d="M418.16 54.5C417.86 54.35 413.73 56.54 412.5 54.7C411.27 52.86 414.84 47.96 414.91 47.64C414.98 47.32 413.1 40.14 415 39C416.9 37.86 420.67 42.35 421 42.35C421.33 42.35 425.1 37.86 427 39C428.9 40.14 426.62 46.25 426.75 46.55C426.88 46.86 431.5 49.14 431 51.3C430.5 53.46 425.18 53.59 424.93 53.8C424.67 54.01 423.51 60.44 421.3 60.5C419.09 60.56 418.45 54.66 418.16 54.5Z" fill="#FF566D"/><path d="M370.82 75.84C370.58 75.98 367.66 80.93 365.8 80.5C363.94 80.07 363.83 74.49 363.66 74.27C363.49 74.04 358.6 72.41 358.7 70.5C358.8 68.59 363.75 67.45 363.95 67.24C364.14 67.03 364.81 61.25 366.7 61C368.59 60.75 370.28 66.16 370.54 66.29C370.79 66.43 374.96 65.48 375.8 67.2C376.64 68.92 373.25 70.27 373.28 70.56C373.3 70.84 378.04 71.97 377.5 73.8C376.96 75.63 371.07 75.69 370.82 75.84Z" fill="#C393FD"/><path d="M478.57 71.03C478.36 70.85 472.7 69.86 472.5 68C472.3 66.14 477.56 64.56 477.71 64.32C477.86 64.08 477.44 59.94 479.2 59.3C480.96 58.66 481.7 61.85 481.98 61.85C482.26 61.85 483.54 57.08 485.3 57.7C487.06 58.32 486.7 63.79 486.85 64.03C486.99 64.27 492.24 66.45 492 68.3C491.76 70.15 485.91 70.8 485.7 70.99C485.5 71.18 484.37 75.9 482.5 76C480.63 76.1 478.78 71.21 478.57 71.03Z" fill="#C393FD"/><path d="M363.75 105.61C363.46 105.6 358.91 108.47 357.5 107.2C356.09 105.93 358.54 101.01 358.5 100.73C358.46 100.44 354.77 96.3 355.8 94.7C356.83 93.1 362.33 94.81 362.6 94.74C362.88 94.66 366.61 90.83 368.3 91.7C369.99 92.57 367.89 96.61 368.06 96.83C368.24 97.06 372.06 96.15 372.5 98C372.94 99.85 369.12 101.55 369.02 101.82C368.92 102.09 371.52 106.86 370 108C368.48 109.14 364.03 105.62 363.75 105.61Z" fill="#FFA000"/><path d="M396.75 119.47C396.5 119.61 393.82 124.67 392 124.3C390.18 123.93 389.77 118.24 389.59 118.02C389.42 117.81 384.16 116.15 384.2 114.3C384.24 112.45 389.84 111.08 390.03 110.88C390.22 110.67 391.16 105.7 393 105.5C394.84 105.3 396.06 110.24 396.31 110.38C396.55 110.51 400.01 109.62 400.8 111.3C401.59 112.98 398.96 114.02 398.97 114.3C398.98 114.58 403.95 116.27 403.3 118C402.65 119.73 396.99 119.34 396.75 119.47Z" fill="#2B9B9B"/><path d="M483.88 118.55C483.65 118.39 477.42 118.12 477 116.3C476.58 114.48 481.58 113.61 481.62 113.33C481.65 113.05 478.35 111.66 479.2 110C480.05 108.34 484.13 109.58 484.37 109.44C484.61 109.3 485.64 104.2 487.5 104.3C489.36 104.4 490.48 110.02 490.68 110.21C490.88 110.41 495.65 111.44 495.8 113.3C495.95 115.16 491.17 116.97 490.99 117.19C490.82 117.41 490.15 122.73 488.3 123C486.45 123.27 484.11 118.71 483.88 118.55Z" fill="#FFA000"/><path d="M371.53 158.81C371.25 158.83 366.54 162.76 365 161.7C363.46 160.64 366.14 155.24 366.04 154.98C365.93 154.72 362.61 153.13 363 151.3C363.39 149.47 367.44 149.85 367.63 149.65C367.83 149.45 367.37 145.1 369.2 144.7C371.03 144.3 372.77 148.15 373.03 148.26C373.29 148.37 378.23 146.4 379.2 148C380.17 149.6 376.55 153.38 376.52 153.66C376.49 153.94 379.32 158.68 378 160C376.68 161.32 371.81 158.78 371.53 158.81Z" fill="#FF8298"/><path d="M431.46 160.79C431.24 160.61 426.1 159.86 425.8 158C425.5 156.14 430.02 154.18 430.15 153.94C430.28 153.69 429.1 148.29 430.8 147.5C432.5 146.71 435.72 151.05 435.99 151.1C436.27 151.15 440.39 148.65 441.7 150C443.01 151.35 439.73 154.87 439.81 155.15C439.89 155.42 443.41 156.47 443 158.3C442.59 160.13 438.55 160.37 438.34 160.55C438.12 160.73 437.18 166.64 435.3 166.7C433.42 166.76 431.68 160.97 431.46 160.79Z" fill="#FF566D"/><path d="M494.58 170.17C494.31 170.09 489.03 171.86 488 170.3C486.97 168.74 490.44 164.84 490.46 164.56C490.48 164.28 487.44 159.67 488.7 158.3C489.96 156.93 494.43 160 494.7 159.93C494.97 159.86 496.93 156.4 498.7 157C500.47 157.6 499.42 161.2 499.62 161.39C499.82 161.59 504.41 160.23 505 162C505.59 163.77 501.02 166.82 500.91 167.08C500.8 167.33 501.68 172.49 500 173.3C498.32 174.11 494.85 170.24 494.58 170.17Z" fill="#C393FD"/><path d="M344.22 181.4C343.98 181.24 338.2 182.56 337.5 180.8C336.8 179.04 341.34 176 341.4 175.73C341.47 175.45 338.91 170.98 340.3 169.7C341.69 168.42 346.47 171.39 346.76 171.38C347.04 171.36 351.5 168.05 353 169.2C354.5 170.35 352.14 175.15 352.22 175.42C352.3 175.69 356.41 178.21 355.8 180C355.19 181.79 350.22 180.75 350 180.92C349.77 181.09 349.39 184.88 347.5 185C345.61 185.12 344.46 181.55 344.22 181.4Z" fill="#FF566D"/><path d="M390.5 188.92C390.25 189.04 386.73 194.23 385 193.7C383.27 193.17 383.85 187.47 383.69 187.26C383.53 187.04 379.24 186.01 379.2 184.2C379.16 182.39 384 181.82 384.14 181.59C384.28 181.36 383.36 178.26 385 177.5C386.64 176.74 387.69 179.15 387.97 179.15C388.24 179.15 390.35 174.27 392 175C393.65 175.73 392.87 181.59 392.98 181.83C393.09 182.08 397.29 185.29 396.7 187C396.11 188.71 390.74 188.8 390.5 188.92Z" fill="#2B9B9B"/><path d="M460.44 183.77C460.21 183.94 458.62 189.26 456.7 189.2C454.78 189.14 453.49 183.11 453.28 182.91C453.07 182.71 448.45 181.61 448.3 179.7C448.15 177.79 452.81 175.97 452.99 175.75C453.17 175.53 453.9 169.95 455.8 169.7C457.7 169.45 459.27 174.2 459.52 174.34C459.78 174.48 464.47 173.27 465.3 175C466.13 176.73 462.56 178.27 462.58 178.56C462.61 178.85 467.55 180.16 467 182C466.45 183.84 460.68 183.6 460.44 183.77Z" fill="#C393FD"/><path d="M420.01 208.69C419.71 208.69 416.64 211.85 415 210.8C413.36 209.75 415.2 205.55 415.07 205.28C414.95 205.02 410.04 203.63 410.3 201.7C410.56 199.77 415.83 199.43 416.03 199.22C416.23 199 416.38 194.05 418.3 193.7C420.22 193.35 422.7 198.32 422.94 198.48C423.19 198.64 428.75 198.91 429.2 200.8C429.65 202.69 425.44 204.87 425.33 205.14C425.22 205.41 427.44 210.95 425.8 212C424.16 213.05 420.3 208.69 420.01 208.69Z" fill="#FF8298"/><path d="M474.14 205.73C473.94 205.52 467.87 203.18 468 201.3C468.13 199.42 473.61 198.93 473.79 198.71C473.96 198.49 473.51 194.28 475.3 193.7C477.09 193.12 478.67 196.71 478.95 196.76C479.22 196.81 482.73 193.03 484.2 194.2C485.67 195.37 483.23 200.15 483.31 200.42C483.39 200.69 487.59 203.22 487 205C486.41 206.78 481.35 206.01 481.12 206.18C480.89 206.35 480.18 210.74 478.3 210.8C476.42 210.86 474.33 205.93 474.14 205.73Z" fill="#FF8298"/><path d="M368 232.7C367.7 232.7 363.59 236.19 362 235C360.41 233.81 362.6 228.71 362.53 228.42C362.45 228.14 358.19 224.82 359 223C359.81 221.18 364.67 222.42 364.92 222.26C365.17 222.09 366.01 217 368 217C369.99 217 370.83 222.09 371.08 222.26C371.33 222.42 376.19 221.18 377 223C377.81 224.82 373.55 228.14 373.47 228.42C373.4 228.71 375.59 233.81 374 235C372.41 236.19 368.3 232.7 368 232.7Z" fill="#C393FD"/><path d="M202.4 54.7C205.23 54.03 209.45 53.68 213 53.6C216.55 53.52 220.87 53.37 223.7 54.2C226.53 55.03 228.62 56.9 230 58.6C231.38 60.3 231.75 62.3 232 64.4C232.25 66.5 231.02 69.25 231.5 71.2C231.98 73.15 234.08 74.32 234.9 76.1C235.72 77.88 236.4 79.63 236.4 81.9C236.4 84.17 236.2 87.1 234.9 89.7C233.6 92.3 231.6 95.32 228.6 97.5C225.6 99.68 220.78 102.07 216.9 102.8C213.02 103.53 209.02 103.27 205.3 101.9C201.58 100.53 197.28 97.6 194.6 94.6C191.92 91.6 190.18 87.3 189.2 83.9C188.22 80.5 188.37 77.45 188.7 74.2C189.03 70.95 189.98 67.17 191.2 64.4C192.42 61.63 194.13 59.22 196 57.6C197.87 55.98 199.57 55.37 202.4 54.7Z" fill="#FF566D"/><path d="M231 72.5C236.17 74.04 248.29 58.51 243.7 54.7C239.11 50.89 227.86 68.11 231 72.5Z" fill="#2B9B9B"/><path d="M232.5 73.5L244 70.2" stroke="#FFA000" stroke-width="2.2" stroke-linecap="round"/><path d="M311.2 99C312.5 97.87 313.98 94.9 316.1 93.6C318.22 92.3 321.47 91.52 323.9 91.2C326.33 90.88 328.43 90.98 330.7 91.7C332.97 92.42 335.57 93.72 337.5 95.5C339.43 97.28 341 99.63 342.3 102.4C343.6 105.17 344.88 108.7 345.3 112.1C345.72 115.5 345.78 119.57 344.8 122.8C343.82 126.03 341.75 129.08 339.4 131.5C337.05 133.92 333.93 136 330.7 137.3C327.47 138.6 323.57 139.45 320 139.3C316.43 139.15 312.55 138.18 309.3 136.4C306.05 134.62 302.77 131.52 300.5 128.6C298.23 125.68 296.58 122.13 295.7 118.9C294.82 115.67 294.88 111.8 295.2 109.2C295.52 106.6 296.22 104.68 297.6 103.3C298.98 101.92 301.72 101.38 303.5 100.9C305.28 100.42 307.02 100.72 308.3 100.4C309.58 100.08 309.9 100.13 311.2 99Z" fill="#FF566D"/><path d="M310.8 98.8C310.61 92.8 292.32 87.01 290.2 93.4C288.08 99.79 307.69 103.94 310.8 98.8Z" fill="#2B9B9B"/><path d="M304.4 87.5L311 97.6" stroke="#FFA000" stroke-width="2.3" stroke-linecap="round"/><ellipse cx="331.5" cy="103.2" rx="4.7" ry="4.1" fill="#FDEBDE"/><path d="M328.2 84.5C327.92 86 327.78 87.75 327.8 90C327.82 92.25 328.1 95.42 328.3 98C328.5 100.58 328.47 103.97 329 105.5C329.53 107.03 330.63 107.2 331.5 107.2C332.37 107.2 333.78 107.03 334.2 105.5C334.62 103.97 334.1 100.33 334 98C333.9 95.67 333.55 93.08 333.6 91.5C333.65 89.92 333.88 89.67 334.3 88.5C334.72 87.33 335.85 85.75 336.1 84.5C336.35 83.25 336.4 81.8 335.8 81C335.2 80.2 333.55 79.7 332.5 79.7C331.45 79.7 330.22 80.2 329.5 81C328.78 81.8 328.48 83 328.2 84.5Z" fill="#2B9B9B"/><circle cx="331.1" cy="83.8" r="0.8" fill="#FDF3EC"/><circle cx="330.5" cy="90.6" r="0.8" fill="#FDF3EC"/><circle cx="330.6" cy="93.5" r="0.8" fill="#FDF3EC"/><circle cx="331.3" cy="97.3" r="0.8" fill="#FDF3EC"/><path d="M422.4 79.6C423.43 78.63 426.13 76.93 429.2 76.2C432.27 75.47 437.25 74.63 440.8 75.2C444.35 75.77 447.75 77.42 450.5 79.6C453.25 81.78 455.6 85.07 457.3 88.3C459 91.53 460.37 95.27 460.7 99C461.03 102.73 460.67 107.13 459.3 110.7C457.93 114.27 455.58 117.82 452.5 120.4C449.42 122.98 444.68 125.07 440.8 126.2C436.92 127.33 431.95 127.85 429.2 127.2C426.45 126.55 425.77 124.57 424.3 122.3C422.83 120.03 422.02 115.87 420.4 113.6C418.78 111.33 416.05 110.65 414.6 108.7C413.15 106.75 412.12 104 411.7 101.9C411.28 99.8 411.47 97.35 412.1 96.1C412.73 94.85 414.6 95.02 415.5 94.4C416.4 93.78 416.82 92.65 417.5 92.4C418.18 92.15 418.82 93.55 419.6 92.9C420.38 92.25 421.87 89.88 422.2 88.5C422.53 87.12 421.47 85.68 421.6 84.6C421.73 83.52 422.87 82.83 423 82C423.13 81.17 421.37 80.57 422.4 79.6Z" fill="#FF566D"/><path d="M420 112.4L410.5 120.8" stroke="#FFA000" stroke-width="2.2" stroke-linecap="round"/><path d="M423 113.5C417.34 113.22 409.75 131 415.5 133.6C421.25 136.2 427.46 117 423 113.5Z" fill="#2B9B9B"/><path d="M303.5 217.4C302.48 215.58 300.65 213.35 299.9 211.1C299.15 208.85 298.7 206.45 299 203.9C299.3 201.35 300.2 198.37 301.7 195.8C303.2 193.23 305.58 190.47 308 188.5C310.42 186.53 313.48 184.9 316.2 184C318.92 183.1 321.45 182.95 324.3 183.1C327.15 183.25 330.6 183.7 333.3 184.9C336 186.1 338.55 188.18 340.5 190.3C342.45 192.42 343.93 194.88 345 197.6C346.07 200.32 346.67 203.75 346.9 206.6C347.13 209.45 346.8 212.3 346.4 214.7C346 217.1 346.4 218.95 344.5 221C342.6 223.05 339.92 226 335 227C330.08 228 319.83 227.83 315 227C310.17 226.17 307.92 223.6 306 222C304.08 220.4 304.52 219.22 303.5 217.4Z" fill="#FF566D"/><path d="M305 218.2L301 225" stroke="#FFA000" stroke-width="2.3" stroke-linecap="round"/><path d="M497 198C497.67 193 498.17 186.15 502 182C505.83 177.85 514 173.43 520 173.1C526 172.77 533.73 176.02 538 180C542.27 183.98 544.77 191.5 545.6 197C546.43 202.5 544.77 208.33 543 213C541.23 217.67 538.83 222.5 535 225C531.17 227.5 525 228.17 520 228C515 227.83 508.67 226.67 505 224C501.33 221.33 499.33 216.33 498 212C496.67 207.67 496.33 203 497 198Z" fill="#FF566D"/><ellipse cx="528.6" cy="222.5" rx="5.2" ry="4.6" fill="#2B9B9B"/><path d="M523.3 218.5L521 225" stroke="#FFA000" stroke-width="2" stroke-linecap="round"/></g></g>
<path d="M162 31.8V49.9M167.24 41.5V49.9M172.48 41.5V49.9M177.72 41.5V49.9M182.96 41.5V49.9M188.2 41.5V49.9M193.44 41.5V49.9M198.68 41.5V49.9M203.93 36.3V49.9M209.17 41.5V49.9M214.41 41.5V49.9M219.65 41.5V49.9M224.89 41.5V49.9M230.13 41.5V49.9M235.37 41.5V49.9M240.61 41.5V49.9M245.85 31.8V49.9M251.09 41.5V49.9M256.33 41.5V49.9M261.57 41.5V49.9M266.81 41.5V49.9M272.05 41.5V49.9M277.29 41.5V49.9M282.53 41.5V49.9M287.77 36.3V49.9M293.02 41.5V49.9M298.26 41.5V49.9M303.5 41.5V49.9M308.74 41.5V49.9M313.98 41.5V49.9M319.22 41.5V49.9M324.46 41.5V49.9M329.7 31.8V49.9M334.94 41.5V49.9M340.18 41.5V49.9M345.42 41.5V49.9M350.66 41.5V49.9M355.9 41.5V49.9M361.14 41.5V49.9M366.38 41.5V49.9M371.62 36.3V49.9M376.87 41.5V49.9M382.11 41.5V49.9M387.35 41.5V49.9M392.59 41.5V49.9M397.83 41.5V49.9M403.07 41.5V49.9M408.31 41.5V49.9M413.55 31.8V49.9M418.79 41.5V49.9M424.03 41.5V49.9M429.27 41.5V49.9M434.51 41.5V49.9M439.75 41.5V49.9M444.99 41.5V49.9M450.23 41.5V49.9M455.47 36.3V49.9M460.72 41.5V49.9M465.96 41.5V49.9M471.2 41.5V49.9M476.44 41.5V49.9M481.68 41.5V49.9M486.92 41.5V49.9M492.16 41.5V49.9M497.4 31.8V49.9M502.64 41.5V49.9M507.88 41.5V49.9M513.12 41.5V49.9M518.36 41.5V49.9M523.6 41.5V49.9M528.84 41.5V49.9M534.08 41.5V49.9M539.33 36.3V49.9M544.57 41.5V49.9M549.81 41.5V49.9M555.05 41.5V49.9M560.29 41.5V49.9M565.53 41.5V49.9M570.77 41.5V49.9M576.01 41.5V49.9M581.25 31.8V49.9M586.49 41.5V49.9M591.73 41.5V49.9M596.97 41.5V49.9M602.21 41.5V49.9M607.45 41.5V49.9M612.69 41.5V49.9M617.93 41.5V49.9M623.17 36.3V49.9M628.42 41.5V49.9M633.66 41.5V49.9M638.9 41.5V49.9M644.14 41.5V49.9M649.38 41.5V49.9M654.62 41.5V49.9M659.86 41.5V49.9M665.1 31.8V49.9M143.8 49.9H162M153.2 55.15H162M153.2 60.4H162M153.2 65.65H162M153.2 70.9H162M153.2 76.15H162M153.2 81.4H162M153.2 86.65H162M148.2 91.9H162M153.2 97.15H162M153.2 102.4H162M153.2 107.65H162M153.2 112.9H162M153.2 118.15H162M153.2 123.4H162M153.2 128.65H162M143.8 133.9H162M153.2 139.15H162M153.2 144.4H162M153.2 149.65H162M153.2 154.9H162M153.2 160.15H162M153.2 165.4H162M153.2 170.65H162M148.2 175.9H162M153.2 181.15H162M153.2 186.4H162M153.2 191.65H162M153.2 196.9H162M153.2 202.15H162M153.2 207.4H162M153.2 212.65H162M143.8 217.9H162" stroke="#141414" stroke-width="1.45" fill="none"/>
<text x="236.25" y="27.9" class="lb">1in.</text>
<text x="320.1" y="27.9" class="lb">2in.</text>
<text x="403.95" y="27.9" class="lb">3in.</text>
<text x="487.8" y="27.9" class="lb">4in.</text>
<text x="571.65" y="27.9" class="lb">5in.</text>
<text x="655.5" y="27.9" class="lb">6in.</text>
<text transform="translate(139.9 145.8) rotate(-90)" class="lb">1in.</text>
<text transform="translate(140.9 227.8) rotate(-90)" class="lb">2in.</text>
<clipPath id="c1"><rect x="162" y="288.35" width="504" height="168.35"/></clipPath>
<rect x="162" y="288.35" width="504" height="168.35" fill="#FDEBDE"/>
<g clip-path="url(#c1)"><path d="M150 475C147.13 464.38 158.82 461.8 162.8 456.25C166.78 450.7 169.73 445.97 173.9 441.7C178.07 437.43 183.17 433.38 187.8 430.6C192.43 427.82 197.77 426.12 201.7 425C205.63 423.88 207.93 423.32 211.4 423.9C214.87 424.48 219.5 426 222.5 428.5C225.5 431 227.2 435.32 229.4 438.9C231.6 442.48 232.57 447.11 235.7 450C238.83 452.89 243.82 451.25 248.2 456.25C252.58 461.25 265.03 469.38 262 480C258.97 490.62 243.67 513.33 230 520C216.33 526.67 193.33 527.5 180 520C166.67 512.5 152.87 485.62 150 475Z" fill="#FF566D"/><path d="M234 449.6C244.91 446.59 248.06 408.49 235.5 407.2C222.94 405.91 223.33 445.83 234 449.6Z" fill="#2B9B9B"/><path d="M236.6 449.3L252.2 432.8" stroke="#FFA000" stroke-width="4.6" stroke-linecap="round"/><path d="M353 270C345.22 277.29 352.13 281.75 353.3 288.75C354.47 295.75 356.38 305.12 360 312C363.62 318.88 369.45 326 375 330C380.55 334 387.8 336.17 393.3 336C398.8 335.83 403.55 329.83 408 329C412.45 328.17 415.5 330.7 420 331C424.5 331.3 430.42 333.3 435 330.8C439.58 328.3 444.72 323.01 447.5 316C450.28 308.99 451.28 298.08 451.7 288.75C452.12 279.42 458.62 267.29 450 260C441.38 252.71 416.17 243.33 400 245C383.83 246.67 360.78 262.71 353 270Z" fill="#FF566D"/><path d="M408.2 330L413.5 352.4" stroke="#FFA000" stroke-width="4.8" stroke-linecap="round"/><path d="M409.5 327.3C406.86 336.6 437.54 361.82 444.6 354C451.66 346.18 417.76 322.27 409.5 327.3Z" fill="#2B9B9B"/><path d="M198 312.6C197.43 312.51 190.35 316.36 187.8 313.5C185.25 310.64 189.84 305.8 189.71 305.24C189.58 304.68 179.54 301.18 180.6 297.5C181.66 293.82 193.24 293.02 193.74 292.74C194.24 292.45 201.29 281.05 205 282C208.71 282.95 206.64 293.37 207.09 293.73C207.53 294.09 215.89 290.57 217.6 294C219.31 297.43 210.25 305.66 210.09 306.21C209.92 306.76 211.94 317.12 208.6 319C205.26 320.88 198.56 312.7 198 312.6Z" fill="#FF8298"/><path d="M320.27 307.26C319.74 307.61 315.9 316.34 311.7 315.8C307.5 315.26 305.9 305.01 305.52 304.51C305.13 304.01 294.04 299.59 294.6 295.4C295.16 291.21 304.37 291.3 304.76 290.8C305.15 290.3 302.07 279.57 306 278C309.93 276.43 316.07 284.75 316.69 284.88C317.31 285.01 329.01 277.01 332 280C334.99 282.99 326.68 293.88 326.85 294.49C327.01 295.1 335.65 299.2 334.6 303.3C333.55 307.4 320.79 306.9 320.27 307.26Z" fill="#FF8298"/><path d="M174.21 360.26C173.64 360.5 169.54 368.63 165.5 367.6C161.46 366.57 161.67 357.92 161.27 357.44C160.86 356.96 148.38 356.16 148 352C147.62 347.84 158.63 344.38 158.93 343.83C159.24 343.29 156.27 331.87 160 330C163.73 328.13 172.06 337.82 172.67 337.96C173.28 338.09 183.81 333.73 186.4 337C188.99 340.27 181.82 348.61 181.86 349.23C181.9 349.86 189.95 357.12 187.8 360.7C185.65 364.28 174.79 360.03 174.21 360.26Z" fill="#FF566D"/><path d="M234.67 375.52C234.14 375.73 226.44 383.9 223 382.2C219.56 380.5 223.8 372.9 223.43 372.46C223.06 372.02 216.04 374.67 214.9 371C213.76 367.33 220.22 363.38 220.38 362.83C220.55 362.28 214.04 351.44 217 349C219.96 346.56 229.53 353.74 230.1 353.7C230.68 353.65 238.72 345.81 242 347.8C245.28 349.79 241.35 361.9 241.53 362.44C241.71 362.99 248.91 368.93 247.5 372.5C246.09 376.07 235.21 375.31 234.67 375.52Z" fill="#FFA000"/><path d="M335.59 417.74C335.07 417.5 323.32 422.11 321.4 418.8C319.48 415.49 328.07 406.82 328.15 406.25C328.24 405.68 323.2 395.61 326 393C328.8 390.39 338.28 396.65 338.85 396.59C339.42 396.54 347.03 389.2 350.3 391.2C353.57 393.2 349.76 403.43 349.98 403.96C350.2 404.49 358.45 408.79 357.5 412.5C356.55 416.21 347.09 414.66 346.67 415.06C346.25 415.45 346.86 422.96 343.1 423.7C339.34 424.44 336.12 417.98 335.59 417.74Z" fill="#FF566D"/><path d="M312.75 461.82C312.28 462.28 304.4 476.55 300 476C295.6 475.45 292.88 461.49 292.45 460.98C292.01 460.47 282.34 455.69 282.5 451.25C282.66 446.81 291.96 445.04 292.34 444.5C292.72 443.95 290.88 433.65 295 432C299.12 430.35 301.2 437.89 301.86 437.84C302.52 437.79 303.97 427.33 308.3 428.3C312.63 429.27 312.85 442.22 313.29 442.71C313.74 443.2 322.78 445.19 323.3 449.6C323.82 454.01 313.22 461.35 312.75 461.82Z" fill="#2B9B9B"/><path d="M528.32 335.47C527.74 335.49 522.65 344.14 519.2 342.4C515.75 340.66 518.16 330.88 517.89 330.37C517.62 329.86 507.01 326.24 507.5 322.4C507.99 318.56 519.62 317.26 520.04 316.86C520.45 316.45 522.15 306.2 526 305.8C529.85 305.4 534 315.54 534.47 315.88C534.94 316.21 546.51 316.64 547.4 320.4C548.29 324.16 537.97 328.64 537.74 329.17C537.51 329.71 540.04 337.95 536.7 339.9C533.36 341.85 528.9 335.45 528.32 335.47Z" fill="#FF8298"/><path d="M496.2 395.01C495.76 394.63 482.77 393.38 482.3 389.5C481.83 385.62 491.7 381.45 491.99 380.94C492.27 380.42 489.47 367.68 493 366C496.53 364.32 501.13 374.94 501.71 374.87C502.29 374.81 503.69 367.1 507.5 368C511.31 368.9 510.57 379.36 510.96 379.79C511.36 380.23 520.48 380.72 521 384.6C521.52 388.48 510.84 392.8 510.47 393.25C510.09 393.7 507.61 402.83 503.7 403C499.79 403.17 496.65 395.39 496.2 395.01Z" fill="#FFA000"/><path d="M445.67 428.32C445.23 427.94 434.63 425.98 434.2 422.1C433.77 418.22 443.31 414.3 443.63 413.81C443.96 413.33 443.36 401.53 447.1 400.4C450.84 399.27 456.21 409.58 456.76 409.79C457.31 409.99 465.79 407.12 467.9 410.4C470.01 413.68 463.52 417.1 463.64 417.67C463.77 418.25 473.85 419.03 473.3 422.9C472.75 426.77 461.07 428.28 460.63 428.66C460.19 429.05 457.2 439.94 453.3 440C449.4 440.06 446.11 428.71 445.67 428.32Z" fill="#C393FD"/><path d="M591.95 404.51C591.39 404.67 586.1 412.38 582.5 411C578.9 409.62 581.61 400.52 581.25 400.07C580.9 399.61 573.27 399.83 572.8 396C572.33 392.17 579.35 389.48 579.62 388.97C579.89 388.46 576.15 376.92 579.6 375.2C583.05 373.48 591.12 382.27 591.69 382.4C592.25 382.53 603.16 378.34 605.5 381.4C607.84 384.46 600.65 393.46 600.65 394.04C600.64 394.61 607.26 403.25 604.9 406.3C602.54 409.35 592.51 404.35 591.95 404.51Z" fill="#FF566D"/><path d="M361.04 478.83C360.44 478.78 353.04 484.6 350 482C346.96 479.4 351.37 470.38 351.27 469.79C351.17 469.2 342.97 461.45 345 458C347.03 454.55 357.43 457.26 357.99 457.05C358.55 456.85 365.23 446.68 369 448C372.77 449.32 370.25 459.28 370.67 459.72C371.08 460.15 380.85 458.17 382 462C383.15 465.83 372.99 471.67 372.77 472.23C372.55 472.78 375.45 482.97 372 485C368.55 487.03 361.64 478.89 361.04 478.83Z" fill="#FFA000"/><path d="M575 470C578.06 459.23 550.64 440.59 543.5 451C536.36 461.41 566.9 477.73 575 470Z" fill="#2B9B9B"/><path d="M575.5 451L578 470" stroke="#FFA000" stroke-width="4.2" stroke-linecap="round"/></g>
<path d="M162 269.6V287.7M167.24 279.3V287.7M172.48 279.3V287.7M177.72 279.3V287.7M182.96 279.3V287.7M188.2 279.3V287.7M193.44 279.3V287.7M198.68 279.3V287.7M203.93 274.1V287.7M209.17 279.3V287.7M214.41 279.3V287.7M219.65 279.3V287.7M224.89 279.3V287.7M230.13 279.3V287.7M235.37 279.3V287.7M240.61 279.3V287.7M245.85 269.6V287.7M251.09 279.3V287.7M256.33 279.3V287.7M261.57 279.3V287.7M266.81 279.3V287.7M272.05 279.3V287.7M277.29 279.3V287.7M282.53 279.3V287.7M287.77 274.1V287.7M293.02 279.3V287.7M298.26 279.3V287.7M303.5 279.3V287.7M308.74 279.3V287.7M313.98 279.3V287.7M319.22 279.3V287.7M324.46 279.3V287.7M329.7 269.6V287.7M334.94 279.3V287.7M340.18 279.3V287.7M345.42 279.3V287.7M350.66 279.3V287.7M355.9 279.3V287.7M361.14 279.3V287.7M366.38 279.3V287.7M371.62 274.1V287.7M376.87 279.3V287.7M382.11 279.3V287.7M387.35 279.3V287.7M392.59 279.3V287.7M397.83 279.3V287.7M403.07 279.3V287.7M408.31 279.3V287.7M413.55 269.6V287.7M418.79 279.3V287.7M424.03 279.3V287.7M429.27 279.3V287.7M434.51 279.3V287.7M439.75 279.3V287.7M444.99 279.3V287.7M450.23 279.3V287.7M455.47 274.1V287.7M460.72 279.3V287.7M465.96 279.3V287.7M471.2 279.3V287.7M476.44 279.3V287.7M481.68 279.3V287.7M486.92 279.3V287.7M492.16 279.3V287.7M497.4 269.6V287.7M502.64 279.3V287.7M507.88 279.3V287.7M513.12 279.3V287.7M518.36 279.3V287.7M523.6 279.3V287.7M528.84 279.3V287.7M534.08 279.3V287.7M539.33 274.1V287.7M544.57 279.3V287.7M549.81 279.3V287.7M555.05 279.3V287.7M560.29 279.3V287.7M565.53 279.3V287.7M570.77 279.3V287.7M576.01 279.3V287.7M581.25 269.6V287.7M586.49 279.3V287.7M591.73 279.3V287.7M596.97 279.3V287.7M602.21 279.3V287.7M607.45 279.3V287.7M612.69 279.3V287.7M617.93 279.3V287.7M623.17 274.1V287.7M628.42 279.3V287.7M633.66 279.3V287.7M638.9 279.3V287.7M644.14 279.3V287.7M649.38 279.3V287.7M654.62 279.3V287.7M659.86 279.3V287.7M665.1 269.6V287.7M143.8 287.7H162M153.2 292.95H162M153.2 298.2H162M153.2 303.45H162M153.2 308.7H162M153.2 313.95H162M153.2 319.2H162M153.2 324.45H162M148.2 329.7H162M153.2 334.95H162M153.2 340.2H162M153.2 345.45H162M153.2 350.7H162M153.2 355.95H162M153.2 361.2H162M153.2 366.45H162M143.8 371.7H162M153.2 376.95H162M153.2 382.2H162M153.2 387.45H162M153.2 392.7H162M153.2 397.95H162M153.2 403.2H162M153.2 408.45H162M148.2 413.7H162M153.2 418.95H162M153.2 424.2H162M153.2 429.45H162M153.2 434.7H162M153.2 439.95H162M153.2 445.2H162M153.2 450.45H162M143.8 455.7H162" stroke="#141414" stroke-width="1.45" fill="none"/>
<text x="236.25" y="265.7" class="lb">1in.</text>
<text x="320.1" y="265.7" class="lb">2in.</text>
<text x="403.95" y="265.7" class="lb">3in.</text>
<text x="487.8" y="265.7" class="lb">4in.</text>
<text x="571.65" y="265.7" class="lb">5in.</text>
<text x="655.5" y="265.7" class="lb">6in.</text>
<text transform="translate(139.9 383.6) rotate(-90)" class="lb">1in.</text>
<text transform="translate(140.9 465.6) rotate(-90)" class="lb">2in.</text>
<clipPath id="c2"><rect x="162" y="525.85" width="504" height="168.35"/></clipPath>
<rect x="162" y="525.85" width="504" height="168.35" fill="#FDEBDE"/>
<g clip-path="url(#c2)"><path d="M355 510C346.04 513.42 349.17 520.5 346.25 525.5C343.33 530.5 339.79 534.67 337.5 540C335.21 545.33 333.54 551.25 332.5 557.5C331.46 563.75 330.83 571.67 331.25 577.5C331.67 583.33 332.71 587.08 335 592.5C337.29 597.92 340.83 604.17 345 610C349.17 615.83 354.58 622.08 360 627.5C365.42 632.92 371.25 638.96 377.5 642.5C383.75 646.04 390.42 648.12 397.5 648.75C404.58 649.38 412.92 647.92 420 646.25C427.08 644.58 433.75 642.29 440 638.75C446.25 635.21 452.5 630.62 457.5 625C462.5 619.38 466.67 612.08 470 605C473.33 597.92 476.04 588.75 477.5 582.5C478.96 576.25 478.96 571.92 478.75 567.5C478.54 563.08 477.71 559.75 476.25 556C474.79 552.25 472.71 548.5 470 545C467.29 541.5 463.33 537.33 460 535C456.67 532.67 453.33 533.17 450 531C446.67 528.83 448.33 526.33 440 522C431.67 517.67 414.17 507 400 505C385.83 503 363.96 506.58 355 510Z" fill="#FF566D"/><path d="M446 529C451.96 521.8 436.99 497.54 428 503C419.01 508.46 437.16 532.04 446 529Z" fill="#2B9B9B"/><path d="M451 531L462 515" stroke="#FFA000" stroke-width="5" stroke-linecap="round"/><path d="M248.48 522.85C247.53 522.87 238.65 538.28 233 535.5C227.35 532.72 231.65 514.56 231.21 513.73C230.78 512.89 215.03 506.22 216 500C216.97 493.78 235.72 492.11 236.44 491.49C237.16 490.88 241.7 475 248 475C254.3 475 258.84 490.88 259.56 491.49C260.28 492.11 279.03 493.78 280 500C280.97 506.22 264.06 511.76 263.64 512.61C263.23 513.46 267.49 526.92 262 530C256.51 533.08 249.42 522.82 248.48 522.85Z" fill="#FF8298"/><path d="M194.2 619.65C193.49 620.22 189.53 639.19 183.5 639.1C177.47 639.01 172.01 619.37 171.39 618.7C170.78 618.04 149.65 611.02 150 605C150.35 598.98 170.55 597.69 171.11 596.97C171.67 596.26 169.55 581.43 175.3 579.6C181.05 577.77 188.19 593.49 189.04 593.81C189.88 594.13 202.93 588.8 206 594C209.07 599.2 198.19 603.68 198.34 604.57C198.49 605.47 214.99 607.08 213.8 613C212.61 618.92 194.9 619.09 194.2 619.65Z" fill="#2B9B9B"/><path d="M297.59 693.36C296.85 692.79 282.92 692.73 281.4 686.7C279.88 680.67 291.63 674.88 291.95 674.01C292.28 673.13 284.2 656.76 289.3 653.2C294.4 649.64 306.82 661.28 307.75 661.27C308.69 661.25 321.01 648.98 326.2 652.4C331.39 655.82 324.88 673.55 325.17 674.44C325.45 675.33 338.5 684.88 336.3 690.7C334.1 696.52 318.85 694.07 318.09 694.6C317.32 695.13 314.22 712 308 712C301.78 712 298.32 693.93 297.59 693.36Z" fill="#FF8298"/><path d="M536.67 538.57C535.74 538.06 523.44 539.87 520 533.75C516.56 527.63 526.11 514.47 526.32 513.44C526.54 512.41 521.38 494.21 527 490C532.62 485.79 547.21 494.69 548.26 494.7C549.31 494.71 564.48 485.66 570 490C575.52 494.34 569.76 510.87 570.04 511.89C570.32 512.9 582 523.44 579.5 530C577 536.56 562.98 536.8 562.13 537.42C561.28 538.03 557.01 556.64 550 557C542.99 557.36 537.59 539.08 536.67 538.57Z" fill="#2B9B9B"/><path d="M627.84 572.09C627.16 571.51 611.08 568.16 610.6 562.2C610.12 556.24 623.26 556.2 623.54 555.34C623.81 554.49 614.43 547.86 618.3 543.3C622.17 538.74 632.65 543.93 633.52 543.69C634.38 543.45 643.25 526.36 648.9 528.3C654.55 530.24 654.45 549.59 654.89 550.37C655.34 551.15 673.21 561.14 672 567C670.79 572.86 650.58 572.7 649.91 573.3C649.24 573.89 646.55 587.24 640.6 587.8C634.65 588.36 628.53 572.67 627.84 572.09Z" fill="#FFA000"/><path d="M437.23 720.03C436.59 720.04 428.46 727.44 425 725C421.54 722.56 425.92 712.86 425.7 712.27C425.47 711.68 415.02 707.12 416 703C416.98 698.88 429.18 698.88 429.68 698.5C430.18 698.11 433.27 687.4 437.5 687.5C441.73 687.6 444.06 698.28 444.55 698.68C445.04 699.08 457.02 698.88 458 703C458.98 707.12 448.75 711.51 448.54 712.11C448.33 712.71 453.36 722.43 450 725C446.64 727.57 437.86 720.02 437.23 720.03Z" fill="#FF8298"/><path d="M529.72 668.63C529.02 668.11 512.49 666.97 511.25 661.25C510.01 655.53 525.24 648.81 525.62 648.02C526 647.23 523.49 634.46 528.75 631.9C534.01 629.34 538.01 638.88 538.89 638.82C539.76 638.75 543.84 624.43 549.4 626.25C554.96 628.07 554.62 644.64 555.09 645.38C555.56 646.12 571.95 652.94 571.25 658.75C570.55 664.56 552.79 667.23 552.15 667.83C551.51 668.44 547.74 684.02 541.9 684.4C536.06 684.78 530.42 669.16 529.72 668.63Z" fill="#C393FD"/><path d="M160 702C155.62 700.62 162.9 697.08 165.4 693.75C167.9 690.42 171.73 685.06 175 682C178.27 678.94 182.5 676.07 185 675.4C187.5 674.73 188.96 676.57 190 678C191.04 679.43 190.97 680 191.25 684C191.53 688 196.91 699 191.7 702C186.49 705 164.38 703.38 160 702Z" fill="#2B9B9B"/><path d="M586.25 693.1C588.75 688.1 599.17 679.68 605 675C610.83 670.32 614.17 667.4 621.25 665C628.33 662.6 641.46 661.02 647.5 660.6C653.54 660.18 654.38 660.93 657.5 662.5C660.62 664.07 662.5 665.42 666.25 670C670 674.58 676.04 683.33 680 690C683.96 696.67 696.67 704.67 690 710C683.33 715.33 656.67 722.83 640 722C623.33 721.17 598.96 709.82 590 705C581.04 700.18 583.75 698.1 586.25 693.1Z" fill="#FF566D"/><ellipse cx="619.7" cy="694.5" rx="14" ry="11.8" fill="#FDEBDE"/><path d="M608.1 626.25C606.89 627.92 606.28 631.25 606.5 633.75C606.72 636.25 607.98 638.75 609.4 641.25C610.82 643.75 613.82 646.04 615 648.75C616.18 651.46 616.4 653.96 616.5 657.5C616.6 661.04 616.06 665.83 615.6 670C615.14 674.17 614.37 678.65 613.75 682.5C613.13 686.35 612.27 690.18 611.9 693.1C611.52 696.02 608.73 698.85 611.5 700C614.27 701.15 625.73 701.15 628.5 700C631.27 698.85 627.95 696.43 628.1 693.1C628.25 689.77 628.92 684.27 629.4 680C629.88 675.73 630.69 671.67 631 667.5C631.31 663.33 631.52 659.17 631.25 655C630.98 650.83 630.34 646.46 629.4 642.5C628.46 638.54 627.17 634.17 625.6 631.25C624.03 628.33 621.98 626.25 620 625C618.02 623.75 615.73 623.54 613.75 623.75C611.77 623.96 609.31 624.58 608.1 626.25Z" fill="#2B9B9B"/><ellipse cx="620.6" cy="636.9" rx="2.3" ry="2.3" fill="#FDF3EC"/><ellipse cx="621.9" cy="657" rx="2.7" ry="1.6" fill="#FDF3EC"/><ellipse cx="621.9" cy="665.3" rx="2.7" ry="1.6" fill="#FDF3EC"/><ellipse cx="619.75" cy="676.4" rx="2.7" ry="1.6" fill="#FDF3EC"/></g>
<path d="M162 507.1V525.2M167.24 516.8V525.2M172.48 516.8V525.2M177.72 516.8V525.2M182.96 516.8V525.2M188.2 516.8V525.2M193.44 516.8V525.2M198.68 516.8V525.2M203.93 511.6V525.2M209.17 516.8V525.2M214.41 516.8V525.2M219.65 516.8V525.2M224.89 516.8V525.2M230.13 516.8V525.2M235.37 516.8V525.2M240.61 516.8V525.2M245.85 507.1V525.2M251.09 516.8V525.2M256.33 516.8V525.2M261.57 516.8V525.2M266.81 516.8V525.2M272.05 516.8V525.2M277.29 516.8V525.2M282.53 516.8V525.2M287.77 511.6V525.2M293.02 516.8V525.2M298.26 516.8V525.2M303.5 516.8V525.2M308.74 516.8V525.2M313.98 516.8V525.2M319.22 516.8V525.2M324.46 516.8V525.2M329.7 507.1V525.2M334.94 516.8V525.2M340.18 516.8V525.2M345.42 516.8V525.2M350.66 516.8V525.2M355.9 516.8V525.2M361.14 516.8V525.2M366.38 516.8V525.2M371.62 511.6V525.2M376.87 516.8V525.2M382.11 516.8V525.2M387.35 516.8V525.2M392.59 516.8V525.2M397.83 516.8V525.2M403.07 516.8V525.2M408.31 516.8V525.2M413.55 507.1V525.2M418.79 516.8V525.2M424.03 516.8V525.2M429.27 516.8V525.2M434.51 516.8V525.2M439.75 516.8V525.2M444.99 516.8V525.2M450.23 516.8V525.2M455.47 511.6V525.2M460.72 516.8V525.2M465.96 516.8V525.2M471.2 516.8V525.2M476.44 516.8V525.2M481.68 516.8V525.2M486.92 516.8V525.2M492.16 516.8V525.2M497.4 507.1V525.2M502.64 516.8V525.2M507.88 516.8V525.2M513.12 516.8V525.2M518.36 516.8V525.2M523.6 516.8V525.2M528.84 516.8V525.2M534.08 516.8V525.2M539.33 511.6V525.2M544.57 516.8V525.2M549.81 516.8V525.2M555.05 516.8V525.2M560.29 516.8V525.2M565.53 516.8V525.2M570.77 516.8V525.2M576.01 516.8V525.2M581.25 507.1V525.2M586.49 516.8V525.2M591.73 516.8V525.2M596.97 516.8V525.2M602.21 516.8V525.2M607.45 516.8V525.2M612.69 516.8V525.2M617.93 516.8V525.2M623.17 511.6V525.2M628.42 516.8V525.2M633.66 516.8V525.2M638.9 516.8V525.2M644.14 516.8V525.2M649.38 516.8V525.2M654.62 516.8V525.2M659.86 516.8V525.2M665.1 507.1V525.2M143.8 525.2H162M153.2 530.45H162M153.2 535.7H162M153.2 540.95H162M153.2 546.2H162M153.2 551.45H162M153.2 556.7H162M153.2 561.95H162M148.2 567.2H162M153.2 572.45H162M153.2 577.7H162M153.2 582.95H162M153.2 588.2H162M153.2 593.45H162M153.2 598.7H162M153.2 603.95H162M143.8 609.2H162M153.2 614.45H162M153.2 619.7H162M153.2 624.95H162M153.2 630.2H162M153.2 635.45H162M153.2 640.7H162M153.2 645.95H162M148.2 651.2H162M153.2 656.45H162M153.2 661.7H162M153.2 666.95H162M153.2 672.2H162M153.2 677.45H162M153.2 682.7H162M153.2 687.95H162M143.8 693.2H162" stroke="#141414" stroke-width="1.45" fill="none"/>
<text x="236.25" y="503.2" class="lb">1in.</text>
<text x="320.1" y="503.2" class="lb">2in.</text>
<text x="403.95" y="503.2" class="lb">3in.</text>
<text x="487.8" y="503.2" class="lb">4in.</text>
<text x="571.65" y="503.2" class="lb">5in.</text>
<text x="655.5" y="503.2" class="lb">6in.</text>
<text transform="translate(139.9 621.1) rotate(-90)" class="lb">1in.</text>
<text transform="translate(140.9 703.1) rotate(-90)" class="lb">2in.</text>
<text transform="translate(4.9 115.8) scale(1 1)" class="big">SMALL</text>
<text transform="translate(5.01 146.9) scale(0.94 1)" class="big">SCALE</text>
<text transform="translate(5.54 353.3) scale(0.98 1)" class="big">MEDIUM</text>
<text transform="translate(5.62 384.6) scale(0.94 1)" class="big">SCALE</text>
<text transform="translate(5.75 591.3) scale(0.93 1)" class="big">LARGE</text>
<text transform="translate(5.31 622) scale(0.94 1)" class="big">SCALE</text>
</svg></body></html>
